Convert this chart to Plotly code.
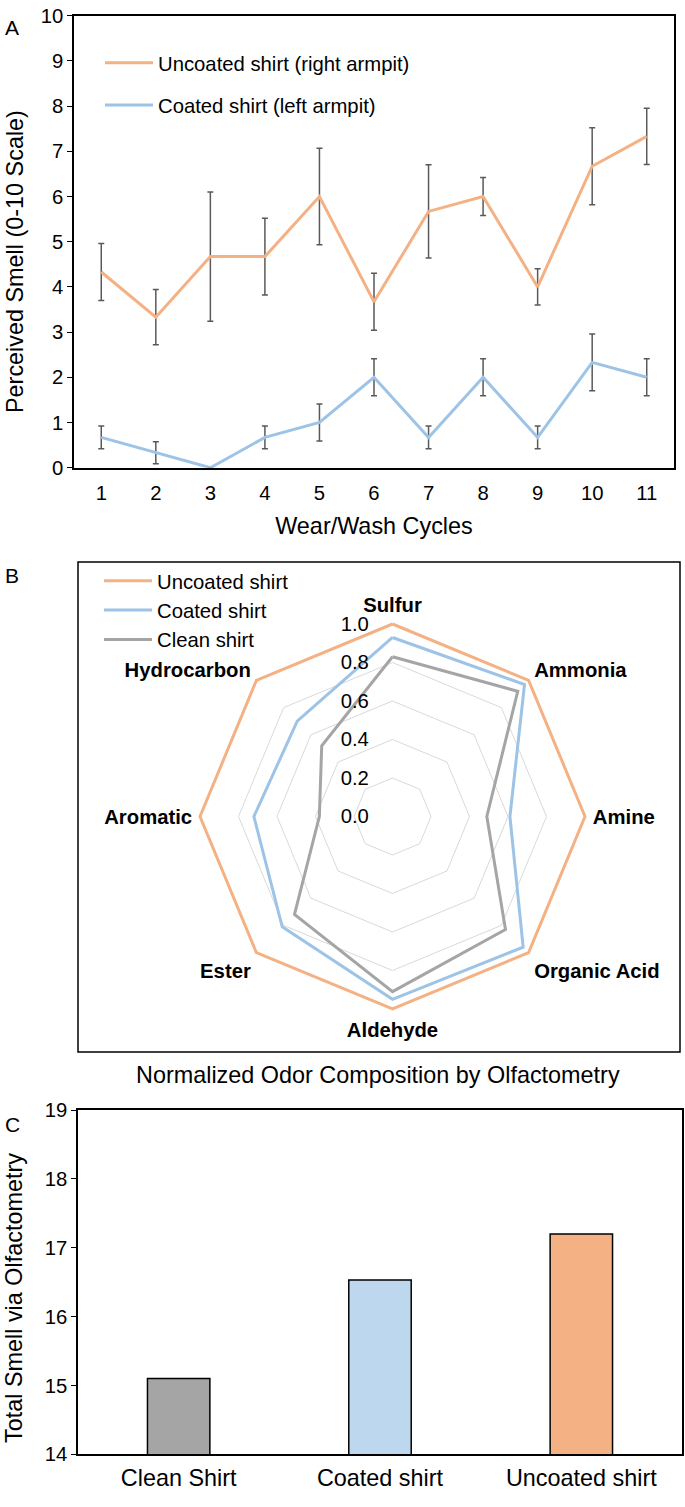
import plotly.graph_objects as go

W, H = 685, 1507

def px(x):
    return x / W

def py(y):
    return 1 - y / H

# ---------------- Panel A data ----------------
cycles = [1, 2, 3, 4, 5, 6, 7, 8, 9, 10, 11]
uncoated_mean = [4.33, 3.33, 4.67, 4.67, 6.0, 3.67, 5.67, 6.0, 4.0, 6.67, 7.33]
uncoated_err = [0.63, 0.61, 1.43, 0.85, 1.07, 0.63, 1.03, 0.42, 0.40, 0.85, 0.62]
coated_mean = [0.67, 0.33, 0.0, 0.67, 1.0, 2.0, 0.67, 2.0, 0.67, 2.33, 2.0]
coated_err = [0.25, 0.245, 0.0, 0.25, 0.41, 0.41, 0.25, 0.41, 0.25, 0.63, 0.41]

# ---------------- Panel B data ----------------
odor_categories = ["Sulfur", "Ammonia", "Amine", "Organic Acid",
                   "Aldehyde", "Ester", "Aromatic", "Hydrocarbon"]
radar_uncoated = [1.0, 1.0, 1.0, 1.0, 1.0, 1.0, 1.0, 1.0]
radar_coated = [0.93, 0.97, 0.61, 0.96, 0.95, 0.81, 0.72, 0.70]
radar_clean = [0.83, 0.92, 0.49, 0.83, 0.91, 0.72, 0.38, 0.52]
radial_ticks = [0.0, 0.2, 0.4, 0.6, 0.8, 1.0]

# ---------------- Panel C data ----------------
shirts = ["Clean Shirt", "Coated shirt", "Uncoated shirt"]
total_smell = [15.1, 16.53, 17.2]

C_UNC = "#F4B183"
C_COA = "#9DC3E6"
C_CLN = "#A5A5A5"
C_BAR_COA = "#BDD7EE"
FONT = "Liberation Sans, Arial, sans-serif"
FS = 20.3      # tick labels, legends
FT = 23.4      # axis titles
CLEAR = "rgba(0,0,0,0)"

fig = go.Figure()

# Panel A
fig.add_trace(go.Scatter(
    x=cycles, y=uncoated_mean, mode="lines", name="Uncoated shirt (right armpit)",
    line=dict(color=C_UNC, width=3),
    error_y=dict(type="data", array=uncoated_err, color="#595959", thickness=1.5, width=3),
    xaxis="x", yaxis="y", legend="legend", legendgroup="a1"))
fig.add_trace(go.Scatter(
    x=cycles, y=coated_mean, mode="lines", name="Coated shirt (left armpit)",
    line=dict(color=C_COA, width=3),
    error_y=dict(type="data", array=coated_err, color="#595959", thickness=1.5, width=3),
    xaxis="x", yaxis="y", legend="legend", legendgroup="a2"))

# Panel B
def closed(v):
    return list(v) + [v[0]]

theta_closed = closed(odor_categories)
fig.add_trace(go.Scatterpolar(r=closed(radar_uncoated), theta=theta_closed, mode="lines",
                              name="Uncoated shirt", line=dict(color=C_UNC, width=3),
                              subplot="polar", legend="legend2"))
fig.add_trace(go.Scatterpolar(r=closed(radar_coated), theta=theta_closed, mode="lines",
                              name="Coated shirt", line=dict(color=C_COA, width=3),
                              subplot="polar", legend="legend2"))
fig.add_trace(go.Scatterpolar(r=closed(radar_clean), theta=theta_closed, mode="lines",
                              name="Clean shirt", line=dict(color=C_CLN, width=3),
                              subplot="polar", legend="legend2"))

# Panel C
fig.add_trace(go.Bar(x=shirts, y=total_smell, width=0.31,
                     marker=dict(color=[C_CLN, C_BAR_COA, C_UNC],
                                 line=dict(color="#000000", width=1.5)),
                     xaxis="x3", yaxis="y3", showlegend=False))

axis_common = dict(showline=True, linecolor="#000000", linewidth=1.5, mirror=True,
                   showgrid=False, zeroline=False, automargin=False,
                   ticklabeloverflow="allow")
tickf = dict(family=FONT, size=FS, color="#000000")

# polar: radius for r=1.0 is 192.5 px; range extended slightly so the r=1 line is not clipped
R_MAX = 1.012
R_PX = 192.5 * R_MAX
CX, CY = 392.5, 816.5

fig.update_layout(
    width=W, height=H, margin=dict(l=0, r=0, t=0, b=0, autoexpand=False),
    paper_bgcolor="white", plot_bgcolor="white",
    font=dict(family=FONT, size=FS, color="#000000"),
    xaxis=dict(domain=[px(74), px(674)], anchor="y", range=[0.5, 11.5],
               tickvals=cycles, ticks="outside", ticklen=6, tickcolor=CLEAR,
               tickfont=tickf,
               title=dict(text="Wear/Wash Cycles", font=dict(size=FT)),
               **axis_common),
    yaxis=dict(domain=[py(467.7), py(15.7)], anchor="x", range=[0, 10], dtick=1,
               ticks="outside", ticklen=5, tickcolor="#000000", tickfont=tickf,
               **axis_common),
    xaxis3=dict(domain=[px(78), px(682)], anchor="y3",
                ticks="outside", ticklen=2, tickcolor=CLEAR,
                tickfont=dict(family=FONT, size=FT, color="#000000"),
                **axis_common),
    yaxis3=dict(domain=[py(1454.3), py(1110)], anchor="x3", range=[14, 19], dtick=1,
                ticks="outside", ticklen=5, tickcolor="#000000", tickfont=tickf,
                **axis_common),
    polar=dict(
        domain=dict(x=[px(CX - R_PX), px(CX + R_PX)], y=[py(CY + R_PX), py(CY - R_PX)]),
        bgcolor=CLEAR,
        gridshape="linear",
        radialaxis=dict(range=[0, R_MAX], tickvals=radial_ticks, tickformat=".1f",
                        angle=90, tickangle=90, side="counterclockwise",
                        showline=False, ticks="outside", ticklen=16, tickcolor=CLEAR,
                        gridcolor="#D9D9D9", gridwidth=1.2, tickfont=tickf),
        angularaxis=dict(direction="clockwise", rotation=90, showgrid=False,
                         showline=False, ticks="outside", ticklen=1, tickcolor=CLEAR,
                         tickfont=dict(family=FONT, size=FS, color="#000000", weight="bold")),
    ),
    legend=dict(x=px(100), y=py(43), xanchor="left", yanchor="top",
                bgcolor=CLEAR, tracegroupgap=13, itemwidth=48,
                font=dict(family=FONT, size=FS)),
    legend2=dict(x=px(99), y=py(561), xanchor="left", yanchor="top",
                 bgcolor=CLEAR, tracegroupgap=0, itemwidth=48,
                 font=dict(family=FONT, size=FS)),
    shapes=[dict(type="rect", xref="paper", yref="paper",
                 x0=px(78), x1=px(680), y0=py(1052), y1=py(562),
                 line=dict(color="#000000", width=1.5))],
    annotations=[
        dict(text="A", x=px(12), y=py(27), xref="paper", yref="paper", showarrow=False,
             xanchor="center", yanchor="middle", font=dict(size=21)),
        dict(text="B", x=px(12), y=py(575), xref="paper", yref="paper", showarrow=False,
             xanchor="center", yanchor="middle", font=dict(size=21)),
        dict(text="C", x=px(12), y=py(1124), xref="paper", yref="paper", showarrow=False,
             xanchor="center", yanchor="middle", font=dict(size=21)),
        dict(text="Perceived Smell (0-10 Scale)", x=px(15), y=py(262),
             xref="paper", yref="paper", showarrow=False, textangle=-90,
             xanchor="center", yanchor="middle", font=dict(size=FT)),
        dict(text="Total Smell via Olfactometry", x=px(14), y=py(1298),
             xref="paper", yref="paper", showarrow=False, textangle=-90,
             xanchor="center", yanchor="middle", font=dict(size=FT)),
        dict(text="Normalized Odor Composition by Olfactometry", x=px(378), y=py(1075),
             xref="paper", yref="paper", showarrow=False,
             xanchor="center", yanchor="middle", font=dict(size=FT)),
    ],
)

# remove the browser's default 8px body margin so the figure fills the window exactly
fig.write_html("out.html", config={"displayModeBar": False},
               post_script="document.body.style.margin='0';")
